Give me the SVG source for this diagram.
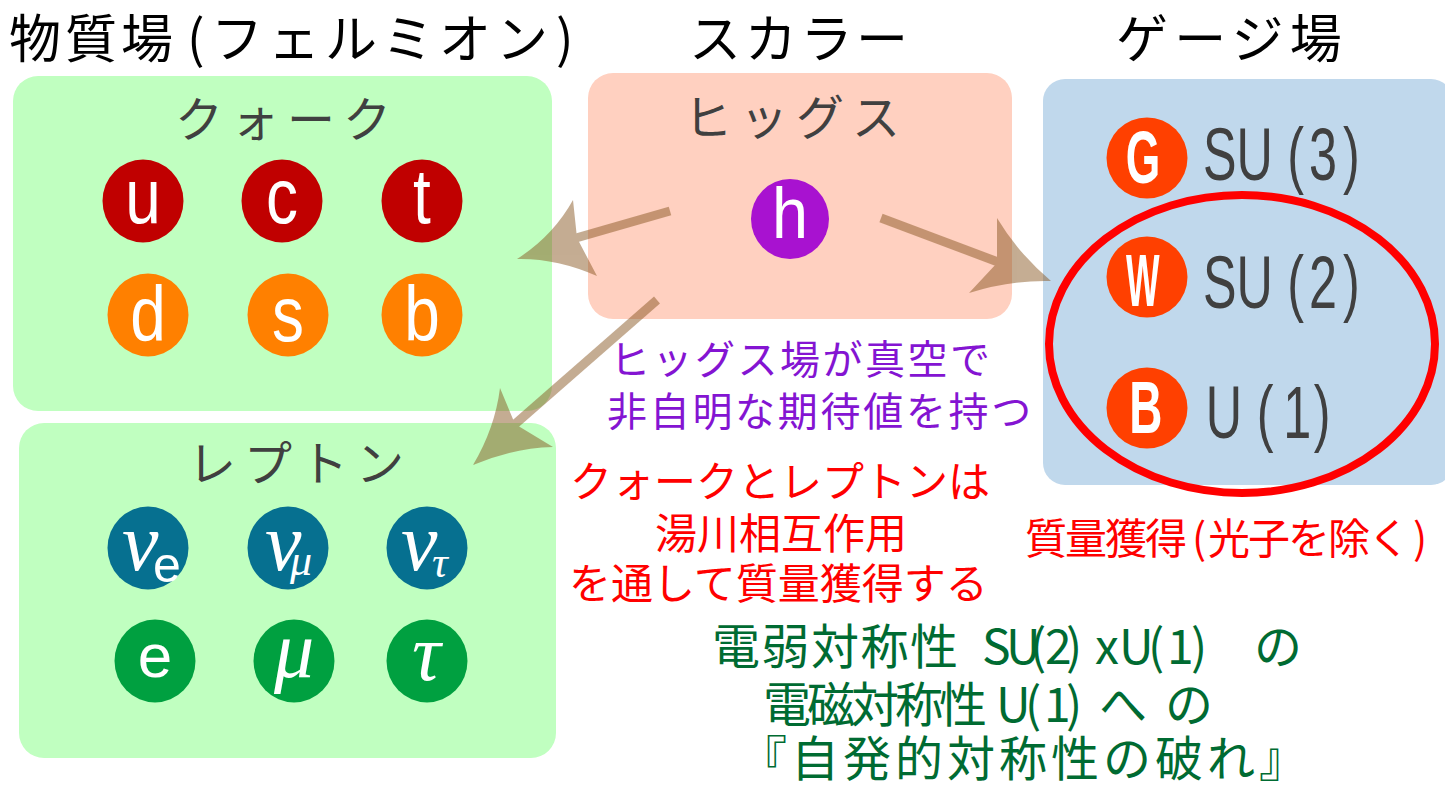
<svg xmlns="http://www.w3.org/2000/svg" width="1445" height="789" viewBox="0 0 1445 789">
<style>
.jp{font-family:"Noto Sans CJK JP","Noto Sans CJK SC","Noto Sans",sans-serif}
.title{font-size:52px;fill:#000}
.hdr{font-size:48px;fill:#404040;letter-spacing:8px}
.box-fer{fill:#c0ffc0}
.box-hig{fill:#ffd0c0}
.box-gau{fill:#c0d8ec}
.lat{font-family:"Liberation Sans",Arial,sans-serif;fill:#fff;text-anchor:middle}
.q{font-size:78px}
.gl{font-size:74px;font-weight:bold}
.gt{font-family:"Liberation Sans",Arial,sans-serif;font-size:74px;fill:#404040}
.ser{font-family:"Liberation Serif","Times New Roman",serif;font-style:italic;fill:#fff}
.sub{font-family:"Liberation Sans",Arial,sans-serif;font-style:normal}
.red{fill:#ff0000;font-size:42px}
.pur{fill:#8414d2;font-size:40px;letter-spacing:2.5px}
.grn{fill:#006b32;font-size:48px}
.arrow{opacity:0.47}
.arrow line{stroke:rgb(132,81,26);stroke-width:9}
.arrow path{fill:rgb(132,81,26)}
</style>

<g id="titles" class="jp title">
<text y="58"><tspan x="9" letter-spacing="4">物質場</tspan><tspan x="187">(</tspan><tspan x="211" letter-spacing="5">フェルミオン</tspan><tspan x="556">)</tspan></text>
<text x="689" y="58" letter-spacing="3.7">スカラー</text>
<text x="1116" y="58" letter-spacing="6.3">ゲージ場</text>
</g>

<g id="quark">
<rect class="box-fer" x="13" y="76" width="539" height="335" rx="25"/>
<text class="jp hdr" x="175" y="137" letter-spacing="9">クォーク</text>
<ellipse cx="143" cy="201" rx="40.5" ry="41.5" fill="#c00000"/>
<ellipse cx="282" cy="201" rx="40.5" ry="41.5" fill="#c00000"/>
<ellipse cx="422" cy="201" rx="40.5" ry="41.5" fill="#c00000"/>
<ellipse cx="148" cy="315" rx="40.5" ry="41.5" fill="#ff8000"/>
<ellipse cx="288" cy="315" rx="40.5" ry="41.5" fill="#ff8000"/>
<ellipse cx="422" cy="315" rx="40.5" ry="41.5" fill="#ff8000"/>
<g class="lat q" transform="scale(0.82,1)">
<text x="174.4" y="223">u</text>
<text x="343.9" y="223">c</text>
<text x="514.6" y="223">t</text>
<text x="180.5" y="341">d</text>
<text x="351.2" y="341">s</text>
<text x="514.6" y="341">b</text>
</g>
</g>

<g id="lepton">
<rect class="box-fer" x="19" y="423" width="537" height="335" rx="25"/>
<text class="jp hdr" x="188" y="481">レプトン</text>
<ellipse cx="148" cy="548" rx="40.5" ry="41.5" fill="#067090"/>
<ellipse cx="288" cy="548" rx="40.5" ry="41.5" fill="#067090"/>
<ellipse cx="427" cy="548" rx="40.5" ry="41.5" fill="#067090"/>
<ellipse cx="155" cy="661" rx="40.5" ry="41.5" fill="#00a040"/>
<ellipse cx="294" cy="661" rx="40.5" ry="41.5" fill="#00a040"/>
<ellipse cx="427" cy="661" rx="40.5" ry="41.5" fill="#00a040"/>
<text class="ser" font-size="82" x="122" y="570">ν<tspan class="sub" font-size="50" x="153" y="582">e</tspan></text>
<text class="ser" font-size="82" x="265" y="570">ν<tspan font-size="44" x="290" y="575">μ</tspan></text>
<text class="ser" font-size="82" x="401" y="570">ν<tspan font-size="44" x="432" y="577">τ</tspan></text>
<text class="lat" font-size="62" x="155" y="677">e</text>
<text class="ser" font-size="80" x="274" y="677">μ</text>
<text class="ser" font-size="80" x="412" y="680">τ</text>
</g>

<g id="higgs">
<rect class="box-hig" x="588" y="73" width="424" height="246" rx="25"/>
<text class="jp hdr" x="684" y="135">ヒッグス</text>
<ellipse cx="790" cy="219" rx="39" ry="40" fill="#a812d0"/>
<text class="lat" font-size="72" x="877.8" y="238" transform="scale(0.9,1)">h</text>
</g>

<g id="gauge">
<rect class="box-gau" x="1043" y="79" width="410" height="406" rx="22"/>
<circle cx="1147" cy="158" r="40.5" fill="#ff4000"/>
<circle cx="1147" cy="277" r="40.5" fill="#ff4000"/>
<circle cx="1147" cy="408" r="40.5" fill="#ff4000"/>
<text class="lat gl" x="1905" y="183" transform="scale(0.6,1)">G</text>
<text class="lat gl" x="2381" y="306" transform="scale(0.48,1)">W</text>
<text class="lat gl" x="1848" y="433" transform="scale(0.62,1)">B</text>
<g transform="scale(0.68,1)" class="gt">
<text y="180"><tspan x="1769">SU</tspan><tspan x="1893">(</tspan><tspan x="1925">3</tspan><tspan x="1975">)</tspan></text>
<text y="308"><tspan x="1769">SU</tspan><tspan x="1893">(</tspan><tspan x="1925">2</tspan><tspan x="1975">)</tspan></text>
<text y="438"><tspan x="1773">U</tspan><tspan x="1848">(</tspan><tspan x="1887">1</tspan><tspan x="1932">)</tspan></text>
</g>
<ellipse cx="1242" cy="344" rx="193" ry="149" fill="none" stroke="#ff0000" stroke-width="8"/>
</g>

<g id="connectors">
<g class="arrow">
<line x1="670" y1="211" x2="576" y2="238"/>
<path d="M517,259 Q553,236 573,200 L577,238 L597,276 Q556,258 517,259 Z"/>
</g>
<g class="arrow">
<line x1="657" y1="300" x2="514" y2="425"/>
<path d="M473,465 Q495,428 500,388 L515,424 L553,447 Q513,448 473,465 Z"/>
</g>
<g class="arrow">
<line x1="881" y1="218" x2="998" y2="262"/>
<path d="M1051,281 Q1018,253 997,218 L997,263 L969,293 Q1010,280 1051,281 Z"/>
</g>
</g>

<g id="note-higgs" class="jp pur">
<text x="610" y="374">ヒッグス場が真空で</text>
<text x="607" y="426" letter-spacing="2.7">非自明な期待値を持つ</text>
</g>

<g id="note-yukawa" class="jp red">
<text x="570" y="497">クォークとレプトンは</text>
<text x="655" y="549">湯川相互作用</text>
<text x="569" y="599">を通して質量獲得する</text>
</g>

<g id="note-mass" class="jp red">
<text y="554"><tspan x="1025" letter-spacing="-2">質量獲得</tspan><tspan x="1192">(</tspan><tspan x="1208" letter-spacing="-2">光子を除く</tspan><tspan x="1413">)</tspan></text>
</g>

<g id="note-ssb" class="jp grn">
<text y="664"><tspan x="712" letter-spacing="1.5">電弱対称性 </tspan><tspan x="982 1006 1030 1045 1066 1080 1095 1110 1119 1148 1167 1191">SU(2) x U(1)</tspan><tspan x="1254">の</tspan></text>
<text y="722"><tspan x="763" letter-spacing="-4">電磁対称性 </tspan><tspan x="996 1025 1044 1066">U(1)</tspan><tspan x="1099 1165">への</tspan></text>
<text x="739" y="776" letter-spacing="4">『自発的対称性の破れ』</text>
</g>
</svg>
